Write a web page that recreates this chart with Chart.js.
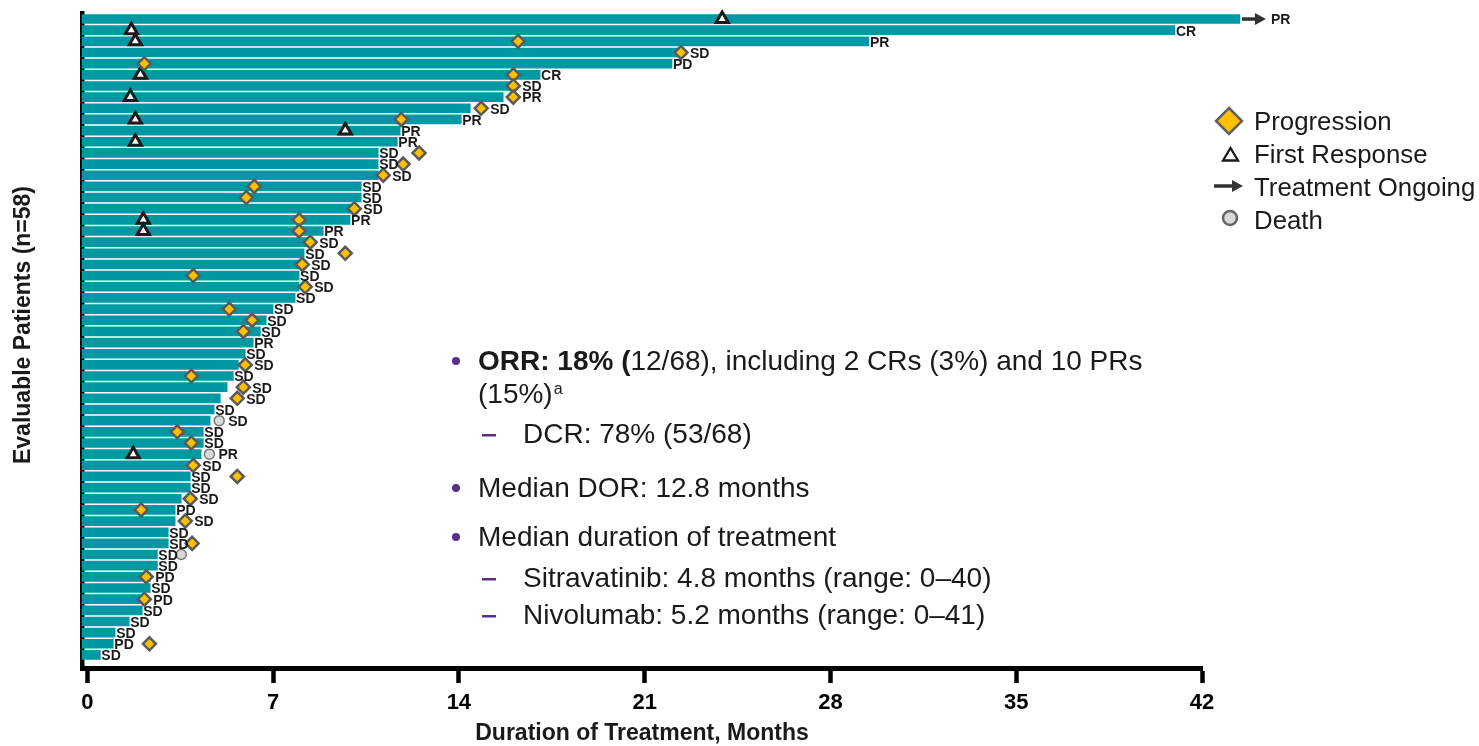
<!DOCTYPE html>
<html>
<head>
<meta charset="utf-8">
<script src="https://cdn.jsdelivr.net/npm/chart.js@4.4.1/dist/chart.umd.min.js"></script>
<style>
  html, body { margin: 0; padding: 0; background: #fff; }
</style>
</head>
<body>
<canvas id="swimmerChart" width="1479" height="746"></canvas>
<script>
// Months on treatment, patient 1 (top row) to patient 58 (bottom row)
const durations = [
  43.43, 40.98, 29.45, 22.4, 22.03, 17.06, 16.1, 15.67, 14.43, 14.09,
  11.79, 11.68, 10.96, 10.96, 10.96, 10.32, 10.32, 10.2, 9.9, 8.89,
  8.29, 8.17, 8.17, 7.98, 7.98, 7.83, 7.0, 6.74, 6.52, 6.25,
  5.95, 5.69, 5.5, 5.27, 5.01, 4.78, 4.63, 4.37, 4.37, 4.29,
  3.88, 3.88, 3.88, 3.54, 3.31, 3.31, 3.05, 3.05, 2.64, 2.64,
  2.37, 2.37, 2.07, 2.07, 1.58, 1.05, 0.98, 0.49
];

// Best response per row
const responses = [
  'PR', 'CR', 'PR', 'SD', 'PD', 'CR', 'SD', 'PR', 'SD', 'PR',
  'PR', 'PR', 'SD', 'SD', 'SD', 'SD', 'SD', 'SD', 'PR', 'PR',
  'SD', 'SD', 'SD', 'SD', 'SD', 'SD', 'SD', 'SD', 'SD', 'PR',
  'SD', 'SD', 'SD', 'SD', 'SD', 'SD', 'SD', 'SD', 'SD', 'PR',
  'SD', 'SD', 'SD', 'SD', 'PD', 'SD', 'SD', 'SD', 'SD', 'SD',
  'PD', 'SD', 'PD', 'SD', 'SD', 'SD', 'PD', 'SD'
];

// Progression events (row, month)
const progressionRows = [3, 4, 5, 6, 7, 8, 9, 10, 13, 14, 15, 16, 17, 18, 19, 20, 21, 22, 23, 24,
  25, 27, 28, 29, 32, 33, 34, 35, 38, 39, 41, 42, 44, 45, 46, 48, 51, 53, 57];
const progressionMonths = [16.23, 22.37, 2.15, 16.05, 16.05, 16.05, 14.84, 11.83, 12.5, 11.9, 11.15, 6.29, 5.99, 10.06, 7.98, 7.98, 8.4, 9.72, 8.1, 3.99,
  8.21, 5.35, 6.21, 5.88, 5.95, 3.92, 5.88, 5.65, 3.39, 3.92, 3.99, 5.65, 3.88, 2.03, 3.69, 3.95, 2.22, 2.15, 2.34];

// First response (row, month)
const responseRows = [1, 2, 3, 6, 8, 10, 11, 12, 19, 20, 40];
const responseMonths = [23.92, 1.66, 1.81, 2.0, 1.62, 1.81, 9.72, 1.81, 2.11, 2.11, 1.73];

// Deaths (row, month)
const deathRows = [37, 40, 49];
const deathMonths = [4.97, 4.6, 3.54];

// Rows still on treatment
const ongoingRows = [1];

const xTicks = [0, 7, 14, 21, 28, 35, 42];

const FONT = '"Liberation Sans", Arial, Helvetica, sans-serif';
const INK = '#1a1a1a';
const PURPLE = '#5b2c8a';

function drawArrow(ctx, x0, y, x1) {
  ctx.save();
  ctx.strokeStyle = '#333';
  ctx.fillStyle = '#333';
  ctx.lineWidth = 3.5;
  ctx.beginPath();
  ctx.moveTo(x0, y);
  ctx.lineTo(x1 - 9, y);
  ctx.stroke();
  ctx.beginPath();
  ctx.moveTo(x1, y);
  ctx.lineTo(x1 - 11, y - 6);
  ctx.lineTo(x1 - 11, y + 6);
  ctx.closePath();
  ctx.fill();
  ctx.restore();
}

// Response labels, ongoing arrows, legend, notes and the y title
const swimmerExtras = {
  id: 'swimmerExtras',
  afterDatasetsDraw(chart) {
    const { ctx, scales: { x, y } } = chart;
    ctx.save();
    ongoingRows.forEach(row => {
      const x0 = x.getPixelForValue(durations[row - 1]) + 2;
      drawArrow(ctx, x0, y.getPixelForValue(row), x0 + 24);
    });

    ctx.font = 'bold 14px ' + FONT;
    ctx.fillStyle = INK;
    ctx.textBaseline = 'middle';
    durations.forEach((d, i) => {
      const row = i + 1;
      let px = x.getPixelForValue(d) + 1;
      // a marker sitting at the tip of the bar pushes the label right
      const near = m => {
        if (m > d - 0.35 && m - d < 0.8) px = Math.max(px, x.getPixelForValue(m) + 9);
      };
      progressionRows.forEach((r, k) => { if (r === row) near(progressionMonths[k]); });
      deathRows.forEach((r, k) => { if (r === row) near(deathMonths[k]); });
      if (ongoingRows.includes(row)) px += 30;
      ctx.fillText(responses[i], px, y.getPixelForValue(row) + 1.5);
    });
    ctx.restore();
  },
  afterDraw(chart) {
    const ctx = chart.ctx;
    ctx.save();

    // legend
    ctx.lineJoin = 'miter';
    ctx.beginPath();
    ctx.moveTo(1229, 108); ctx.lineTo(1242, 121); ctx.lineTo(1229, 134); ctx.lineTo(1216, 121);
    ctx.closePath();
    ctx.fillStyle = '#ffc000'; ctx.fill();
    ctx.strokeStyle = '#606060'; ctx.lineWidth = 2.5; ctx.stroke();

    ctx.beginPath();
    ctx.moveTo(1230.5, 148); ctx.lineTo(1238, 160.5); ctx.lineTo(1223, 160.5);
    ctx.closePath();
    ctx.fillStyle = '#fff'; ctx.fill();
    ctx.strokeStyle = INK; ctx.lineWidth = 2.3; ctx.stroke();

    drawArrow(ctx, 1214, 186, 1243);

    ctx.beginPath();
    ctx.arc(1230, 218, 7, 0, Math.PI * 2);
    ctx.fillStyle = '#d9d9d9'; ctx.fill();
    ctx.strokeStyle = '#666'; ctx.lineWidth = 2.5; ctx.stroke();

    ctx.font = '25.8px ' + FONT;
    ctx.fillStyle = INK;
    ctx.textBaseline = 'alphabetic';
    ctx.fillText('Progression', 1254, 130);
    ctx.fillText('First Response', 1254, 163);
    ctx.fillText('Treatment Ongoing', 1254, 196);
    ctx.fillText('Death', 1254, 229);

    // notes
    const bullet = yy => {
      ctx.beginPath();
      ctx.arc(456, yy - 9, 4, 0, Math.PI * 2);
      ctx.fillStyle = PURPLE; ctx.fill();
    };
    const dash = yy => {
      ctx.fillStyle = PURPLE;
      ctx.fillRect(482, yy - 9, 14, 2.5);
    };
    bullet(370);
    ctx.font = 'bold 28px ' + FONT;
    ctx.fillStyle = INK;
    const boldPart = 'ORR: 18% (';
    ctx.fillText(boldPart, 478, 370);
    const bw = ctx.measureText(boldPart).width;
    ctx.font = '28px ' + FONT;
    ctx.fillText('12/68), including 2 CRs (3%) and 10 PRs', 478 + bw, 370);
    ctx.fillText('(15%)', 478, 403);
    const pw = ctx.measureText('(15%)').width;
    ctx.font = '16px ' + FONT;
    ctx.fillText('a', 478 + pw + 1, 394);
    ctx.font = '28px ' + FONT;
    dash(443);
    ctx.fillStyle = INK;
    ctx.fillText('DCR: 78% (53/68)', 523, 443);
    bullet(497);
    ctx.fillStyle = INK;
    ctx.fillText('Median DOR: 12.8 months', 478, 497);
    bullet(546);
    ctx.fillStyle = INK;
    ctx.fillText('Median duration of treatment', 478, 546);
    dash(587);
    ctx.fillStyle = INK;
    ctx.fillText('Sitravatinib: 4.8 months (range: 0\u201340)', 523, 587);
    dash(624);
    ctx.fillStyle = INK;
    ctx.fillText('Nivolumab: 5.2 months (range: 0\u201341)', 523, 624);

    // y title
    ctx.translate(24, 325);
    ctx.rotate(-Math.PI / 2);
    ctx.font = 'bold 23px ' + FONT;
    ctx.textAlign = 'center';
    ctx.textBaseline = 'middle';
    ctx.fillStyle = INK;
    ctx.fillText('Evaluable Patients (n=58)', 0, 0);
    ctx.restore();
  }
};

const rows = durations.map((d, i) => ({ x: d, y: i + 1 }));
const pairs = (rs, ms) => rs.map((r, k) => ({ x: ms[k], y: r }));

new Chart(document.getElementById('swimmerChart'), {
  type: 'bar',
  data: {
    datasets: [
      {
        type: 'scatter',
        label: 'Progression',
        data: pairs(progressionRows, progressionMonths),
        pointStyle: 'rectRot',
        radius: 6.5,
        backgroundColor: '#ffc000',
        borderColor: '#5a5a5a',
        borderWidth: 2.5,
        clip: false,
        order: 1
      },
      {
        type: 'scatter',
        label: 'First Response',
        data: pairs(responseRows, responseMonths),
        pointStyle: 'triangle',
        radius: 7,
        backgroundColor: '#fff',
        borderColor: INK,
        borderWidth: 3,
        clip: false,
        order: 2
      },
      {
        type: 'scatter',
        label: 'Death',
        data: pairs(deathRows, deathMonths),
        pointStyle: 'circle',
        radius: 5,
        backgroundColor: '#d9d9d9',
        borderColor: '#777',
        borderWidth: 1.5,
        clip: false,
        order: 3
      },
      {
        type: 'bar',
        label: 'Duration',
        data: rows,
        base: -0.2,
        backgroundColor: '#0099a3',
        borderWidth: 0,
        barThickness: 9,
        clip: false,
        order: 10
      }
    ]
  },
  options: {
    indexAxis: 'y',
    responsive: false,
    animation: false,
    events: [],
    layout: { padding: { left: 82, right: 277, top: 13, bottom: 0 } },
    plugins: {
      legend: { display: false },
      tooltip: { enabled: false }
    },
    scales: {
      x: {
        type: 'linear',
        position: 'bottom',
        min: -0.2,
        max: 42,
        offset: false,
        afterBuildTicks: scale => { scale.ticks = xTicks.map(v => ({ value: v })); },
        border: { display: true, color: '#000', width: 5 },
        grid: {
          offset: false,
          drawOnChartArea: false,
          drawTicks: true,
          tickLength: 15,
          tickWidth: 4.5,
          tickColor: '#000'
        },
        ticks: {
          padding: 7,
          color: '#000',
          font: { family: FONT, size: 22, weight: 'bold' },
          maxRotation: 0
        },
        title: {
          display: true,
          text: 'Duration of Treatment, Months',
          color: INK,
          font: { family: FONT, size: 23, weight: 'bold' },
          padding: { top: -4, bottom: -1 }
        }
      },
      y: {
        type: 'linear',
        position: 'left',
        reverse: true,
        min: 0.46,
        max: 59.17,
        offset: false,
        border: { display: true, color: '#000', width: 4.5 },
        grid: { display: false, drawTicks: false, offset: false },
        ticks: { display: false }
      }
    }
  },
  plugins: [swimmerExtras]
});
</script>
</body>
</html>
